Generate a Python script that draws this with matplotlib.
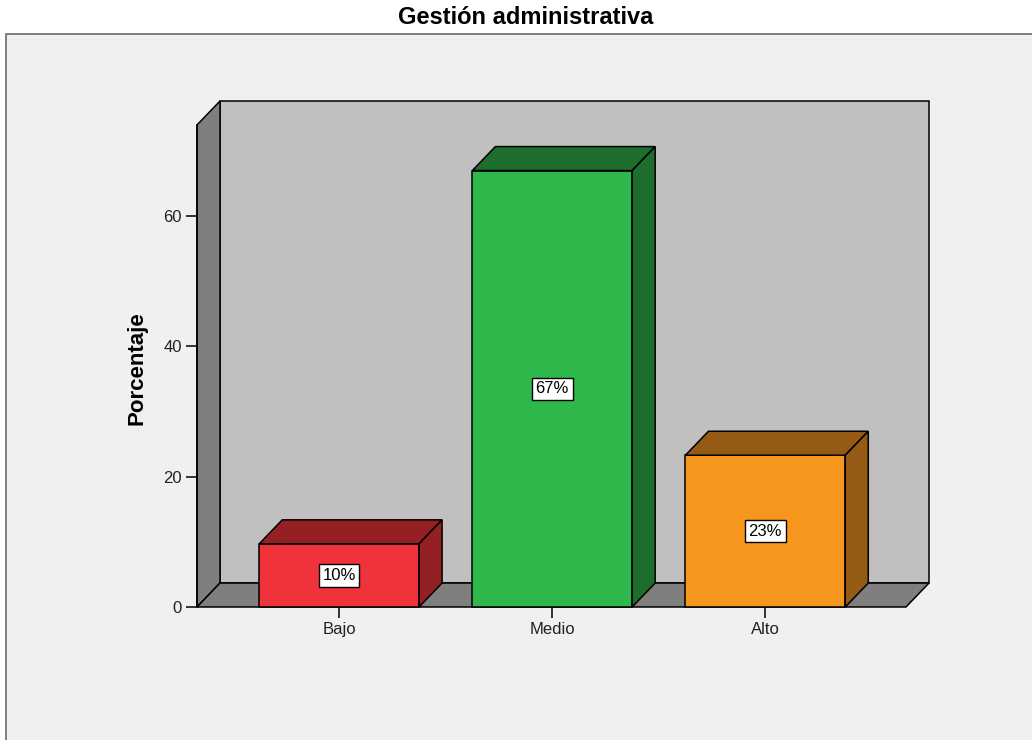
import matplotlib.pyplot as plt
from matplotlib.patches import Polygon, Rectangle

categorias = ["Bajo", "Medio", "Alto"]
porcentajes = [9.7, 67.0, 23.3]
etiquetas = ["10%", "67%", "23%"]
color_frente = ["#f0323a", "#2eb84b", "#f7961d"]
color_oscuro = ["#952024", "#1d6e2d", "#955a14"]
y_ticks = [0, 20, 40, 60]

plt.rcParams["font.family"] = ["Liberation Sans", "DejaVu Sans"]

# profundidad del efecto 3D (en unidades de datos)
dx, dy = 0.108, 3.68
x0, x1 = -0.667, 2.66
ytop = 74.0
ancho = 0.75

fig = plt.figure(figsize=(10.32, 7.40), dpi=100, facecolor="white")
# marco del grafico
fig.patches.append(Rectangle((6 / 1032, -0.1), 1.2, 1 - 34 / 740 + 0.1,
                             transform=fig.transFigure, facecolor="#f0f0f0",
                             edgecolor="#6a6a6a", linewidth=1.2, zorder=0))
fig.text(526 / 1032, 1 - 18 / 740, "Gestión administrativa", ha="center",
         va="center", fontsize=17, fontweight="bold")

ax = fig.add_axes([197 / 1032, 1 - 607 / 740, 732 / 1032, 506 / 740])
ax.set_zorder(2)
ax.set_facecolor("none")
ax.set_xlim(x0, x1 + dx)
ax.set_ylim(0, ytop + dy)
for s in ax.spines.values():
    s.set_visible(False)

kw = dict(edgecolor="black", linewidth=1.1, joinstyle="miter", clip_on=False)
# pared del fondo, pared izquierda y piso
ax.add_patch(Polygon([(x0 + dx, dy), (x1 + dx, dy), (x1 + dx, ytop + dy), (x0 + dx, ytop + dy)],
                     facecolor="#c0c0c0", **kw))
ax.add_patch(Polygon([(x0, 0), (x0 + dx, dy), (x0 + dx, ytop + dy), (x0, ytop)],
                     facecolor="#7f7f7f", **kw))
ax.add_patch(Polygon([(x0, 0), (x1, 0), (x1 + dx, dy), (x0 + dx, dy)],
                     facecolor="#7f7f7f", **kw))

for i, v in enumerate(porcentajes):
    a, b = i - ancho / 2, i + ancho / 2
    ax.add_patch(Polygon([(a, 0), (b, 0), (b, v), (a, v)], facecolor=color_frente[i], **kw))
    ax.add_patch(Polygon([(a, v), (b, v), (b + dx, v + dy), (a + dx, v + dy)],
                         facecolor=color_oscuro[i], **kw))
    ax.add_patch(Polygon([(b, 0), (b + dx, dy), (b + dx, v + dy), (b, v)],
                         facecolor=color_oscuro[i], **kw))
    ax.text(i, v / 2, etiquetas[i], ha="center", va="center", fontsize=12,
            bbox=dict(boxstyle="square,pad=0.22", facecolor="white", edgecolor="black", linewidth=1))

ax.set_xticks(range(len(categorias)))
ax.set_xticklabels(categorias, fontsize=12)
ax.set_yticks(y_ticks)
ax.set_yticklabels([str(t) for t in y_ticks], fontsize=12)
ax.tick_params(axis="both", length=8, width=1.1, color="black", labelcolor="#222222", pad=3)
ax.plot([x0, x0], [0, ytop], color="black", lw=1.1, clip_on=False)

fig.text(137 / 1032, 1 - 368 / 740, "Porcentaje", rotation=90, ha="center", va="center",
         fontsize=16, fontweight="bold")

fig.savefig("out.png", dpi=100, facecolor="white")
